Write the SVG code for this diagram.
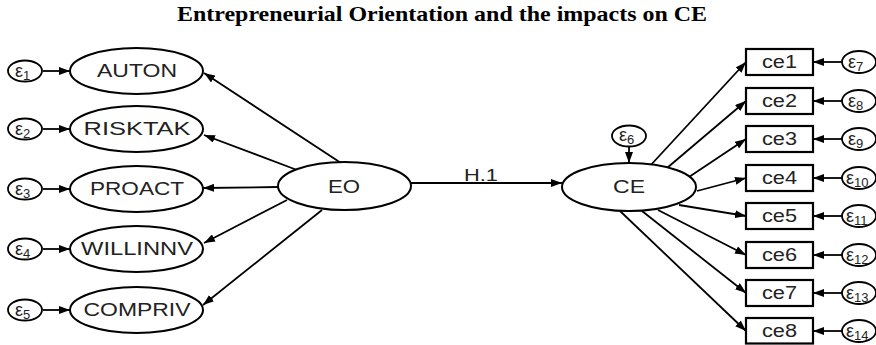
<svg xmlns="http://www.w3.org/2000/svg" width="876" height="345" viewBox="0 0 876 345">
<defs>
<marker id="ah" markerUnits="userSpaceOnUse" markerWidth="12" markerHeight="8" refX="11" refY="4" orient="auto">
<path d="M0,0 L11,4 L0,8 z" fill="#000"/>
</marker>
<style>
.lat{fill:#fff;stroke:#000;stroke-width:2}
.box{fill:#fff;stroke:#000;stroke-width:2.2}
.err{fill:#fff;stroke:#000;stroke-width:1.8}
.lbl{font-family:"Liberation Sans",Arial,sans-serif;font-size:18px;fill:#222;text-anchor:middle}
.eps{font-family:"Liberation Sans",Arial,sans-serif;font-size:18px;fill:#222}
.sub{font-size:13px;fill:#222}
.con line{stroke:#000;stroke-width:1.8;marker-end:url(#ah)}
.title{font-family:"Liberation Serif","Times New Roman",serif;font-size:21px;font-weight:bold;text-anchor:middle}
</style>
</defs>
<rect width="876" height="345" fill="#fff"/>
<text class="title" x="442" y="21" textLength="530" lengthAdjust="spacingAndGlyphs">Entrepreneurial Orientation and the impacts on CE</text>

<g id="connectors" class="con">
<line x1="43" y1="71" x2="70" y2="71"/>
<line x1="43" y1="129" x2="70" y2="129"/>
<line x1="43" y1="189" x2="70" y2="189"/>
<line x1="43" y1="249" x2="70" y2="249"/>
<line x1="43" y1="310" x2="70" y2="310"/>
<line x1="341" y1="163" x2="204" y2="73"/>
<line x1="297" y1="170" x2="204" y2="135"/>
<line x1="278" y1="187" x2="203" y2="188"/>
<line x1="287" y1="200" x2="204" y2="243"/>
<line x1="322" y1="210" x2="203" y2="305"/>
<line x1="411" y1="183" x2="562" y2="183"/>
<line x1="629" y1="147" x2="629" y2="163"/>
<line x1="649" y1="167" x2="746" y2="62"/>
<line x1="667" y1="168" x2="746" y2="101"/>
<line x1="689" y1="177" x2="746" y2="139"/>
<line x1="697" y1="191" x2="746" y2="178"/>
<line x1="679" y1="205" x2="746" y2="216"/>
<line x1="658" y1="210" x2="746" y2="255"/>
<line x1="642" y1="211" x2="746" y2="293"/>
<line x1="620" y1="211" x2="746" y2="331"/>
<line x1="842" y1="62" x2="813" y2="62"/>
<line x1="842" y1="101" x2="813" y2="101"/>
<line x1="842" y1="139" x2="813" y2="139"/>
<line x1="842" y1="178" x2="813" y2="178"/>
<line x1="842" y1="216" x2="813" y2="216"/>
<line x1="842" y1="255" x2="813" y2="255"/>
<line x1="842" y1="293" x2="813" y2="293"/>
<line x1="842" y1="331" x2="813" y2="331"/>
</g>
<text class="lbl" x="481" y="181" textLength="34" lengthAdjust="spacingAndGlyphs" style="font-size:16px">H.1</text>

<g id="e1"><ellipse class="err" cx="25" cy="71" rx="17" ry="10.5"/><text class="eps" x="15" y="77">ε<tspan class="sub" dy="3">1</tspan></text></g>
<g id="e2"><ellipse class="err" cx="25" cy="129" rx="17" ry="10.5"/><text class="eps" x="15" y="135">ε<tspan class="sub" dy="3">2</tspan></text></g>
<g id="e3"><ellipse class="err" cx="25" cy="189" rx="17" ry="10.5"/><text class="eps" x="15" y="195">ε<tspan class="sub" dy="3">3</tspan></text></g>
<g id="e4"><ellipse class="err" cx="25" cy="249" rx="17" ry="10.5"/><text class="eps" x="15" y="255">ε<tspan class="sub" dy="3">4</tspan></text></g>
<g id="e5"><ellipse class="err" cx="25" cy="310" rx="17" ry="10.5"/><text class="eps" x="15" y="316">ε<tspan class="sub" dy="3">5</tspan></text></g>

<g id="AUTON"><ellipse class="lat" cx="136.5" cy="71" rx="66.5" ry="23"/><text class="lbl" x="137" y="77" textLength="80" lengthAdjust="spacingAndGlyphs">AUTON</text></g>
<g id="RISKTAK"><ellipse class="lat" cx="136.5" cy="129" rx="66.5" ry="23"/><text class="lbl" x="137" y="135" textLength="107" lengthAdjust="spacingAndGlyphs">RISKTAK</text></g>
<g id="PROACT"><ellipse class="lat" cx="136.5" cy="189" rx="66.5" ry="23"/><text class="lbl" x="137" y="195" textLength="94" lengthAdjust="spacingAndGlyphs">PROACT</text></g>
<g id="WILLINNV"><ellipse class="lat" cx="136.5" cy="249" rx="66.5" ry="23"/><text class="lbl" x="137" y="255" textLength="112" lengthAdjust="spacingAndGlyphs">WILLINNV</text></g>
<g id="COMPRIV"><ellipse class="lat" cx="136.5" cy="310" rx="66.5" ry="23"/><text class="lbl" x="137" y="316" textLength="107" lengthAdjust="spacingAndGlyphs">COMPRIV</text></g>

<g id="EO"><ellipse class="lat" cx="344.5" cy="186" rx="66.5" ry="24"/><text class="lbl" x="344" y="193" textLength="32" lengthAdjust="spacingAndGlyphs">EO</text></g>
<g id="CE"><ellipse class="lat" cx="629" cy="187" rx="67" ry="24"/><text class="lbl" x="629" y="193" textLength="32" lengthAdjust="spacingAndGlyphs">CE</text></g>
<g id="e6"><ellipse class="err" cx="629" cy="136" rx="17" ry="10.5"/><text class="eps" x="619" y="141">ε<tspan class="sub" dy="3">6</tspan></text></g>

<g id="ce1"><rect class="box" x="746" y="49" width="67" height="26"/><text class="lbl" x="779.5" y="68" textLength="35" lengthAdjust="spacingAndGlyphs">ce1</text></g>
<g id="ce2"><rect class="box" x="746" y="88" width="67" height="26"/><text class="lbl" x="779.5" y="107" textLength="35" lengthAdjust="spacingAndGlyphs">ce2</text></g>
<g id="ce3"><rect class="box" x="746" y="126" width="67" height="26"/><text class="lbl" x="779.5" y="145" textLength="35" lengthAdjust="spacingAndGlyphs">ce3</text></g>
<g id="ce4"><rect class="box" x="746" y="165" width="67" height="26"/><text class="lbl" x="779.5" y="184" textLength="35" lengthAdjust="spacingAndGlyphs">ce4</text></g>
<g id="ce5"><rect class="box" x="746" y="203" width="67" height="26"/><text class="lbl" x="779.5" y="222" textLength="35" lengthAdjust="spacingAndGlyphs">ce5</text></g>
<g id="ce6"><rect class="box" x="746" y="242" width="67" height="26"/><text class="lbl" x="779.5" y="261" textLength="35" lengthAdjust="spacingAndGlyphs">ce6</text></g>
<g id="ce7"><rect class="box" x="746" y="280" width="67" height="26"/><text class="lbl" x="779.5" y="299" textLength="35" lengthAdjust="spacingAndGlyphs">ce7</text></g>
<g id="ce8"><rect class="box" x="746" y="318" width="67" height="25.5"/><text class="lbl" x="779.5" y="337" textLength="35" lengthAdjust="spacingAndGlyphs">ce8</text></g>

<g id="e7"><ellipse class="err" cx="859" cy="62" rx="17" ry="11"/><text class="eps" x="848" y="68">ε<tspan class="sub" dy="3">7</tspan></text></g>
<g id="e8"><ellipse class="err" cx="859" cy="101" rx="17" ry="11"/><text class="eps" x="848" y="107">ε<tspan class="sub" dy="3">8</tspan></text></g>
<g id="e9"><ellipse class="err" cx="859" cy="139" rx="17" ry="11"/><text class="eps" x="848" y="145">ε<tspan class="sub" dy="3">9</tspan></text></g>
<g id="e10"><ellipse class="err" cx="859" cy="178" rx="17" ry="11"/><text class="eps" x="846" y="184">ε<tspan class="sub" dy="3">10</tspan></text></g>
<g id="e11"><ellipse class="err" cx="859" cy="216" rx="17" ry="11"/><text class="eps" x="846" y="222">ε<tspan class="sub" dy="3">11</tspan></text></g>
<g id="e12"><ellipse class="err" cx="859" cy="255" rx="17" ry="11"/><text class="eps" x="846" y="261">ε<tspan class="sub" dy="3">12</tspan></text></g>
<g id="e13"><ellipse class="err" cx="859" cy="293" rx="17" ry="11"/><text class="eps" x="846" y="299">ε<tspan class="sub" dy="3">13</tspan></text></g>
<g id="e14"><ellipse class="err" cx="859" cy="331" rx="17" ry="11"/><text class="eps" x="846" y="337">ε<tspan class="sub" dy="3">14</tspan></text></g>
</svg>
